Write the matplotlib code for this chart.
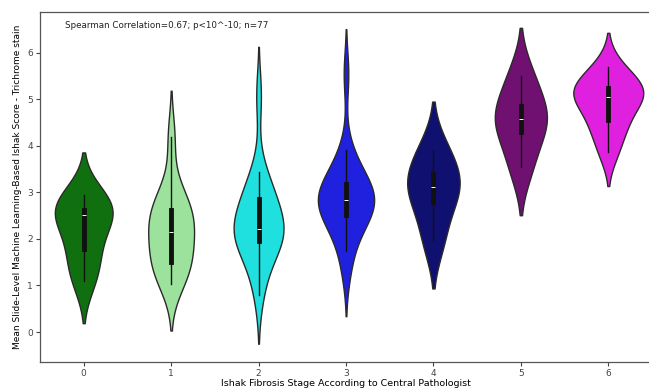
import matplotlib
matplotlib.use("Agg")
import matplotlib.pyplot as plt
import seaborn as sns
import pandas as pd

# Per-stage values
stages = ["0", "1", "2", "3", "4", "5", "6"]
stage0 = [1.10, 1.55, 2.00, 2.52, 2.55, 2.70, 2.95]
stage1 = [1.03, 1.25, 1.40, 1.45, 1.65, 1.90, 2.10, 2.22, 2.40, 2.55, 2.65, 2.75, 3.10, 4.19]
stage2 = [0.80, 1.25, 1.60, 1.85, 1.95, 2.00, 2.10, 2.15, 2.19, 2.22, 2.35, 2.50,
          2.75, 2.90, 2.95, 3.15, 3.44, 5.08]
stage3 = [1.30, 1.75, 2.05, 2.30, 2.40, 2.55, 2.60, 2.65, 2.75, 2.82, 2.85, 2.95,
          3.00, 3.05, 3.15, 3.27, 3.40, 3.60, 3.91, 5.55]
stage4 = [1.98, 2.80, 3.12, 3.40, 3.91]
stage5 = [3.55, 4.30, 4.58, 4.85, 5.50]
stage6 = [3.87, 4.35, 4.55, 4.95, 5.05, 5.15, 5.25, 5.40, 5.70]
colors = ["green", "lightgreen", "cyan", "blue", "navy", "purple", "magenta"]
yticks = [0, 1, 2, 3, 4, 5, 6]

annotation = "Spearman Correlation=0.67; p<10^-10; n=77"
xlabel = "Ishak Fibrosis Stage According to Central Pathologist"
ylabel = "Mean Slide-Level Machine Learning-Based Ishak Score - Trichrome stain"

all_values = [stage0, stage1, stage2, stage3, stage4, stage5, stage6]
rows = []
for s, vals in zip(stages, all_values):
    for v in vals:
        rows.append((s, v))
df = pd.DataFrame(rows, columns=["stage", "score"])

plt.rcParams["font.family"] = ["DejaVu Sans"]
fig = plt.figure(figsize=(6.49, 3.88), dpi=100)
ax = fig.add_axes([40 / 649, (388 - 362) / 388, (652 - 40) / 649, (362 - 12) / 388])

sns.violinplot(data=df, x="stage", y="score", hue="stage", order=stages,
               hue_order=stages, palette=colors, legend=False,
               density_norm="area", common_norm=True, cut=2, inner="box",
               linewidth=1.0, linecolor="#2a2a2a", saturation=0.75,
               inner_kws=dict(box_width=3.5, whis_width=1.0, color="#111111"),
               ax=ax)

ax.set_xlim(-0.5, 6.5)
ax.set_ylim(-0.645, 6.88)
ax.set_yticks(yticks)
ax.tick_params(labelsize=6.5, length=3, width=0.8, pad=2, colors="#444444")
for sp in ax.spines.values():
    sp.set_color("#555555")
    sp.set_linewidth(0.9)
ax.set_xlabel(xlabel, fontsize=6.8, labelpad=1)
ax.set_ylabel(ylabel, fontsize=6.5, labelpad=4)
ax.text(0.041, 0.962, annotation, transform=ax.transAxes, fontsize=6.3,
        ha="left", va="center", color="#222222")

fig.savefig("out.png", dpi=100)
